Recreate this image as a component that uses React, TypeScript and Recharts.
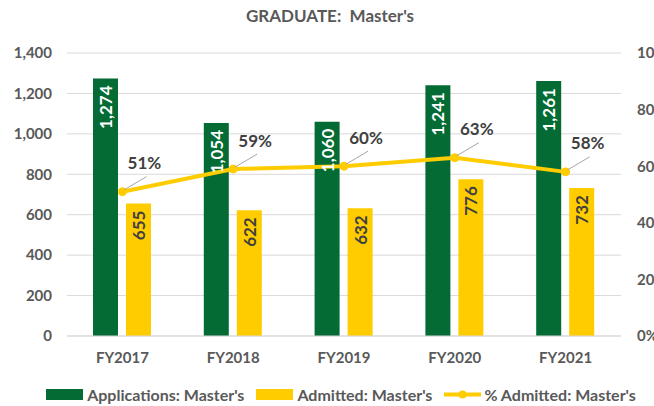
import React from 'react';
import { ComposedChart, Bar, Line, XAxis, YAxis, CartesianGrid, Legend, LabelList } from 'recharts';

// Fiscal years on the x axis
const years = ['FY2017', 'FY2018', 'FY2019', 'FY2020', 'FY2021'];
const applications = [1274, 1054, 1060, 1241, 1261];
const admitted = [655, 622, 632, 776, 732];
const pctAdmitted = [0.51, 0.59, 0.6, 0.63, 0.58];

const leftTicks = [0, 200, 400, 600, 800, 1000, 1200, 1400];
const rightTicks = [0, 0.2, 0.4, 0.6, 0.8, 1];

const GREEN = '#036B33';
const YELLOW = '#FFCC00';
const TEXT = '#595959';
const FONT = 'Lato, "Noto Sans", sans-serif';

const chartData = years.map((fy, i) => ({
  fy,
  apps: applications[i],
  adm: admitted[i],
  pct: pctAdmitted[i],
}));

const fmtNum = (v: number) => v.toLocaleString('en-US');

// rotated label sitting just inside the top of a bar
const barLabel = (color: string) => (props: any) => {
  const { x, y, width, value } = props;
  const cx = x + width / 2;
  const ty = y + 7;
  return (
    <text
      x={cx}
      y={ty}
      transform={`rotate(-90 ${cx} ${ty})`}
      textAnchor="end"
      dominantBaseline="central"
      fill={color}
      fontSize={17}
      fontWeight={700}
      fontFamily={FONT}
    >
      {fmtNum(value)}
    </text>
  );
};

const pctLabel = (props: any) => {
  const { x, y, value } = props;
  return (
    <g>
      <line x1={x + 2} y1={y - 2} x2={x + 24} y2={y - 15} stroke="#A6A6A6" strokeWidth={1} />
      <text
        x={x + 22}
        y={y - 29}
        textAnchor="middle"
        dominantBaseline="central"
        fill="#404040"
        fontSize={17}
        fontWeight={700}
        fontFamily={FONT}
      >
        {Math.round(value * 100) + '%'}
      </text>
    </g>
  );
};

const legendItems = [
  { label: "Applications: Master's", kind: 'bar', color: GREEN },
  { label: "Admitted: Master's", kind: 'bar', color: YELLOW },
  { label: "% Admitted: Master's", kind: 'line', color: YELLOW },
];

const renderLegend = () => (
  <div style={{ display: 'flex', justifyContent: 'center', alignItems: 'center', paddingTop: 15, paddingLeft: 40, fontFamily: FONT }}>
    {legendItems.map((it) => (
      <div key={it.label} style={{ display: 'flex', alignItems: 'center', marginRight: 12 }}>
        {it.kind === 'bar' ? (
          <span style={{ display: 'inline-block', width: 37, height: 11, background: it.color, marginRight: 4 }} />
        ) : (
          <svg width={37} height={11} style={{ marginRight: 3 }}>
            <line x1={0} y1={5.5} x2={37} y2={5.5} stroke={it.color} strokeWidth={4} />
            <circle cx={18.5} cy={5.5} r={4} fill={it.color} />
          </svg>
        )}
        <span style={{ color: TEXT, fontSize: 16, fontWeight: 700 }}>{it.label}</span>
      </div>
    ))}
  </div>
);

export default function App() {
  return (
    <div style={{ position: 'absolute', left: 0, top: 0, width: 654, height: 406, overflow: 'hidden', background: '#fff' }}>
      <div
        style={{
          position: 'absolute',
          top: 5,
          left: 0,
          width: 660,
          textAlign: 'center',
          color: TEXT,
          fontFamily: FONT,
          fontWeight: 700,
          fontSize: 17,
          whiteSpace: 'pre',
        }}
      >
        {"GRADUATE:  Master's"}
      </div>
      <ComposedChart
        width={654}
        height={406}
        data={chartData}
        margin={{ top: 53, right: 0, bottom: 0, left: 0 }}
        barSize={25}
        barGap={8}
      >
        <CartesianGrid vertical={false} stroke="#D9D9D9" yAxisId="left" />
        <XAxis
          dataKey="fy"
          height={34}
          tickLine={false}
          axisLine={{ stroke: '#D9D9D9' }}
          tickMargin={10}
          tick={{ fill: TEXT, fontSize: 15, fontWeight: 700, fontFamily: FONT }}
        />
        <YAxis
          yAxisId="left"
          width={67}
          domain={[0, 1400]}
          ticks={leftTicks}
          tickFormatter={fmtNum}
          axisLine={false}
          tickLine={false}
          tickMargin={9}
          tick={{ fill: TEXT, fontSize: 15, fontWeight: 700, fontFamily: FONT }}
        />
        <YAxis
          yAxisId="right"
          orientation="right"
          width={33}
          domain={[0, 1]}
          ticks={rightTicks}
          tickFormatter={(v: number) => Math.round(v * 100) + '%'}
          axisLine={false}
          tickLine={false}
          tickMargin={10}
          tick={{ fill: TEXT, fontSize: 15, fontWeight: 700, fontFamily: FONT, textAnchor: 'start' }}
        />
        <Legend verticalAlign="bottom" height={36} content={renderLegend} />
        <Bar yAxisId="left" dataKey="apps" name="Applications: Master's" fill={GREEN} isAnimationActive={false}>
          <LabelList dataKey="apps" content={barLabel('#FFFFFF')} />
        </Bar>
        <Bar yAxisId="left" dataKey="adm" name="Admitted: Master's" fill={YELLOW} isAnimationActive={false}>
          <LabelList dataKey="adm" content={barLabel('#404040')} />
        </Bar>
        <Line
          yAxisId="right"
          dataKey="pct"
          name="% Admitted: Master's"
          stroke={YELLOW}
          strokeWidth={4}
          dot={{ r: 4, fill: YELLOW, stroke: YELLOW, strokeWidth: 1 }}
          activeDot={false}
          isAnimationActive={false}
        >
          <LabelList dataKey="pct" content={pctLabel} />
        </Line>
      </ComposedChart>
    </div>
  );
}
